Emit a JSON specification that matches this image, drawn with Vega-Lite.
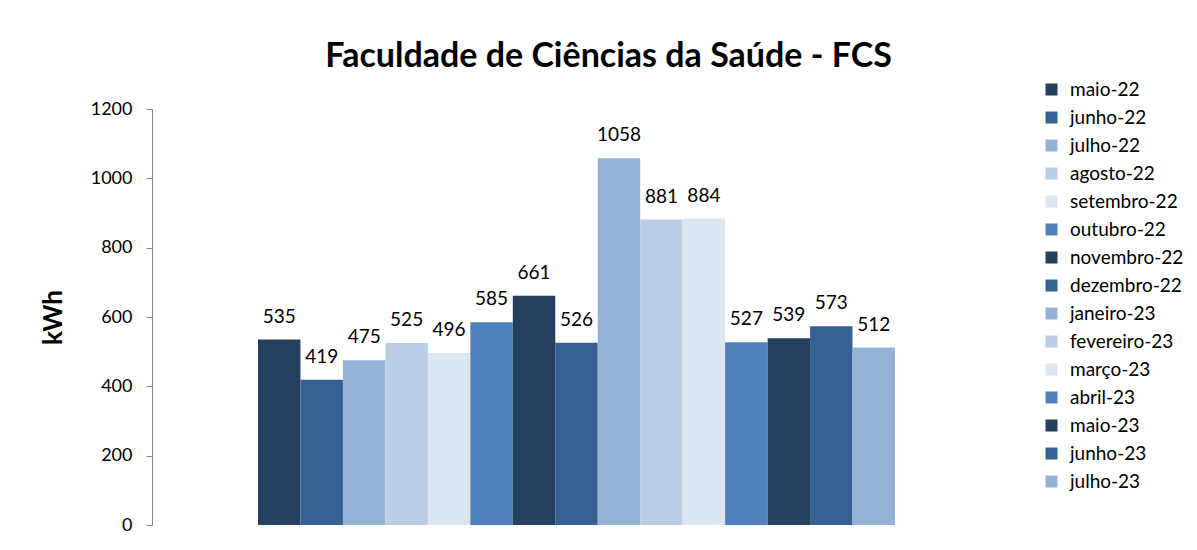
{
  "$schema": "https://vega.github.io/schema/vega-lite/v6.json",
  "width": 849,
  "height": 416,
  "autosize": "none",
  "padding": {"left": 152, "top": 109, "right": 196, "bottom": 25},
  "background": "white",
  "title": {
    "text": "Faculdade de Ciências da Saúde - FCS",
    "font": "Lato",
    "fontSize": 34,
    "fontWeight": "bold",
    "color": "#000000",
    "anchor": "middle",
    "dx": 32,
    "offset": 6
  },
  "data": {
    "values": [
      {"mes": "maio-22", "kwh": 535},
      {"mes": "junho-22", "kwh": 419},
      {"mes": "julho-22", "kwh": 475},
      {"mes": "agosto-22", "kwh": 525},
      {"mes": "setembro-22", "kwh": 496},
      {"mes": "outubro-22", "kwh": 585},
      {"mes": "novembro-22", "kwh": 661},
      {"mes": "dezembro-22", "kwh": 526},
      {"mes": "janeiro-23", "kwh": 1058},
      {"mes": "fevereiro-23", "kwh": 881},
      {"mes": "março-23", "kwh": 884},
      {"mes": "abril-23", "kwh": 527},
      {"mes": "maio-23", "kwh": 539},
      {"mes": "junho-23", "kwh": 573},
      {"mes": "julho-23", "kwh": 512}
    ]
  },
  "encoding": {
    "x": {
      "field": "mes",
      "type": "nominal",
      "sort": null,
      "axis": null,
      "scale": {"paddingInner": 0, "paddingOuter": 0, "range": [106, 743]}
    },
    "y": {
      "field": "kwh",
      "type": "quantitative",
      "scale": {"domain": [0, 1200]},
      "axis": {
        "title": "kWh",
        "titleFont": "Lato",
        "titleFontSize": 26,
        "titleFontWeight": "bold",
        "titleColor": "#000000",
        "titlePadding": 24,
        "values": [0, 200, 400, 600, 800, 1000, 1200],
        "format": "d",
        "labelFont": "Lato",
        "labelFontSize": 18,
        "labelColor": "#000000",
        "labelPadding": 14,
        "tickSize": 6,
        "tickColor": "#888888",
        "domainColor": "#888888",
        "grid": false
      }
    }
  },
  "layer": [
    {
      "mark": {"type": "bar"},
      "encoding": {
        "color": {
          "field": "mes",
          "type": "nominal",
          "sort": null,
          "scale": {
            "domain": ["maio-22", "junho-22", "julho-22", "agosto-22", "setembro-22", "outubro-22", "novembro-22", "dezembro-22", "janeiro-23", "fevereiro-23", "março-23", "abril-23", "maio-23", "junho-23", "julho-23"],
            "range": ["#253F5F", "#376092", "#95B3D7", "#B9CDE5", "#DCE6F2", "#4F81BD", "#253F5F", "#376092", "#95B3D7", "#B9CDE5", "#DCE6F2", "#4F81BD", "#253F5F", "#376092", "#95B3D7"]
          },
          "legend": {
            "title": null,
            "orient": "none",
            "legendX": 890,
            "legendY": -29,
            "symbolType": "square",
            "symbolSize": 144,
            "symbolStrokeWidth": 0,
            "labelFont": "Lato",
            "labelFontSize": 19,
            "labelColor": "#000000",
            "labelOffset": 9,
            "labelLimit": 300,
            "rowPadding": 8
          }
        }
      }
    },
    {
      "mark": {"type": "text", "baseline": "alphabetic", "dy": -17, "font": "Lato", "fontSize": 19, "color": "#000000"},
      "encoding": {
        "text": {"field": "kwh", "type": "quantitative"}
      }
    }
  ],
  "config": {"view": {"stroke": null}}
}
